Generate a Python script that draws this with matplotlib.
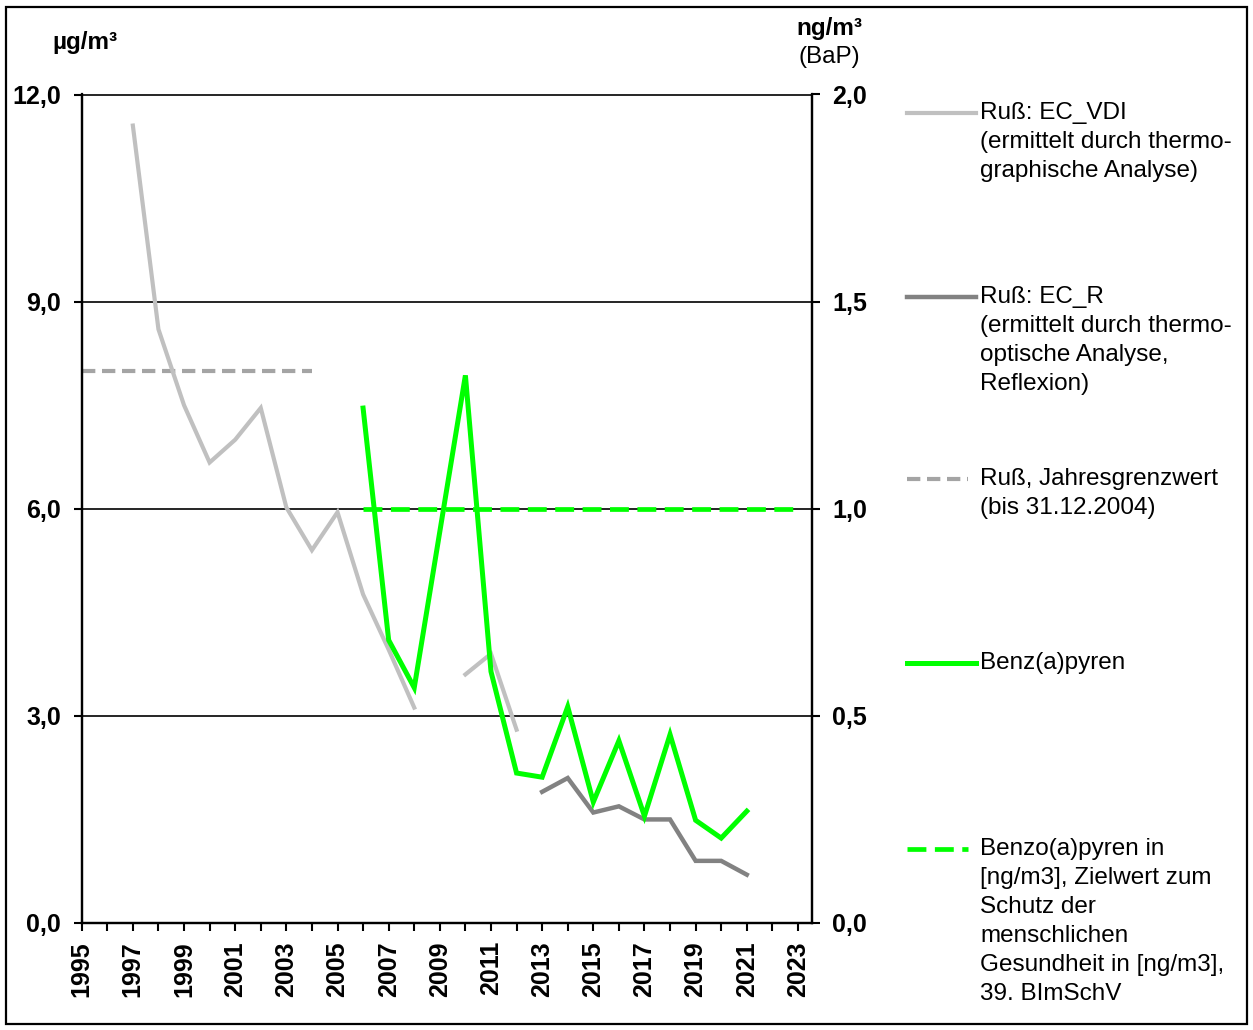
import numpy as np
import matplotlib
matplotlib.use('Agg')
import matplotlib.pyplot as plt
from matplotlib.lines import Line2D
from matplotlib.patches import Rectangle
from matplotlib.ticker import FuncFormatter, MultipleLocator, FixedLocator

plt.rcParams['font.family'] = ['Liberation Sans', 'DejaVu Sans']

# ---------------- data ----------------
ec_vdi_years = [1997, 1998, 1999, 2000, 2001, 2002, 2003, 2004, 2005, 2006, 2007, 2008, 2009, 2010, 2011, 2012]
ec_vdi = [11.55, 8.6, 7.5, 6.67, 7.0, 7.46, 6.02, 5.4, 5.95, 4.76, 3.96, 3.12, np.nan, 3.6, 3.9, 2.8]

ec_r_years = [2013, 2014, 2015, 2016, 2017, 2018, 2019, 2020, 2021]
ec_r = [1.9, 2.1, 1.6, 1.69, 1.5, 1.5, 0.9, 0.9, 0.7]

limit_years = [1995, 2004]
limit_russ = [8.0, 8.0]

bap_years = [2006, 2007, 2008, 2009, 2010, 2011, 2012, 2013, 2014, 2015, 2016, 2017, 2018, 2019, 2020, 2021]
bap = [1.243, 0.683, 0.568, 0.945, 1.322, 0.607, 0.362, 0.352, 0.522, 0.292, 0.44, 0.258, 0.455, 0.248, 0.205, 0.27]

target_years = [2006, 2023]
target_bap = [1.0, 1.0]

left_ticks = [0, 3, 6, 9, 12]
right_ticks = [0, 0.5, 1.0, 1.5, 2.0]
year_labels = list(range(1995, 2024, 2))

legend_labels = [
    ["Ruß: EC_VDI", "(ermittelt durch thermo-", "graphische Analyse)"],
    ["Ruß: EC_R", "(ermittelt durch thermo-", "optische Analyse,", "Reflexion)"],
    ["Ruß, Jahresgrenzwert", "(bis 31.12.2004)"],
    ["Benz(a)pyren"],
    ["Benzo(a)pyren in", "[ng/m3], Zielwert zum", "Schutz der", "menschlichen",
     "Gesundheit in [ng/m3],", "39. BImSchV"],
]

# ---------------- styles ----------------
C_VDI = '#c0c0c0'
C_R = '#828282'
C_LIM = '#a4a4a4'
C_GREEN = '#00ff00'

TICK_FS = 18
LEG_FS = 17.5

W, H = 1253, 1030
fig = plt.figure(figsize=(W / 100, H / 100), dpi=100)

def fx(px):
    return px / W

def fy(py):
    return 1 - py / H

left, right, top, bottom = 81.7, 811.5, 94.5, 923
ax = fig.add_axes([fx(left), fy(bottom), fx(right - left), (bottom - top) / H])
ax2 = ax.twinx()

ax.set_xlim(1995, 2023.53)
ax.set_ylim(0, 12)
ax2.set_ylim(0, 2)

# gridlines
for v in left_ticks[1:]:
    ax.axhline(v, color='black', lw=1.2, zorder=0.5)

ax.plot(limit_years, limit_russ, color=C_LIM, lw=3, dashes=(3.2, 1.6), zorder=2)
ax.plot(ec_vdi_years, ec_vdi, color=C_VDI, lw=3, zorder=2, solid_joinstyle='miter')
ax.plot(ec_r_years, ec_r, color=C_R, lw=3.2, zorder=2, solid_joinstyle='miter')

ax2.plot(target_years, target_bap, color=C_GREEN, lw=3.4, dashes=(4.0, 1.8), zorder=3)
ax2.plot(bap_years, bap, color=C_GREEN, lw=3.6, zorder=3, solid_joinstyle='miter')

fmt = FuncFormatter(lambda v, p: f"{v:.1f}".replace('.', ','))

for a in (ax, ax2):
    a.spines['top'].set_visible(False)
    for s in ('left', 'right', 'bottom'):
        a.spines[s].set_linewidth(1.6)
        a.spines[s].set_color('black')
    a.patch.set_visible(False)

ax.yaxis.set_major_locator(FixedLocator(left_ticks))
ax.yaxis.set_major_formatter(fmt)
ax2.yaxis.set_major_locator(FixedLocator(right_ticks))
ax2.yaxis.set_major_formatter(fmt)

ax.xaxis.set_major_locator(FixedLocator(year_labels))
ax.xaxis.set_minor_locator(MultipleLocator(1))
ax.set_xticklabels([str(y) for y in year_labels], rotation=90, fontweight='bold', fontsize=TICK_FS)

ax.tick_params(axis='y', direction='out', length=6, width=1.5, pad=9, labelsize=TICK_FS)
ax2.tick_params(axis='y', direction='out', length=6, width=1.5, pad=9, labelsize=TICK_FS)
ax.tick_params(axis='x', which='both', direction='out', length=6, width=1.5, pad=7)
for lab in ax.get_yticklabels() + ax2.get_yticklabels():
    lab.set_fontweight('bold')

# unit labels
fig.text(fx(85), fy(43), "µg/m³", fontsize=17.5, fontweight='bold', ha='center', va='center')
fig.text(fx(829), fy(28), "ng/m³", fontsize=17.5, fontweight='bold', ha='center', va='center')
fig.text(fx(829), fy(57), "(BaP)", fontsize=17.5, ha='center', va='center')

# legend (drawn manually)
handles = [
    dict(color=C_VDI, lw=3, dashes=None, x1=976),
    dict(color=C_R, lw=3.2, dashes=None, x1=976),
    dict(color=C_LIM, lw=3, dashes=(3.2, 1.6), x1=968),
    dict(color=C_GREEN, lw=3.6, dashes=None, x1=976),
    dict(color=C_GREEN, lw=3.4, dashes=(4.0, 1.8), x1=968),
]
first_line_y = [113, 297, 479, 663, 849]
line_step = 29
for h, y0, lines in zip(handles, first_line_y, legend_labels):
    ln = Line2D([fx(907), fx(h['x1'])], [fy(y0), fy(y0)], transform=fig.transFigure,
                color=h['color'], lw=h['lw'])
    if h['dashes'] is not None:
        ln.set_dashes(h['dashes'])
    fig.add_artist(ln)
    for k, t in enumerate(lines):
        fig.text(fx(980), fy(y0 + k * line_step), t, fontsize=LEG_FS, ha='left', va='center')

# outer frame
fig.add_artist(Rectangle((fx(6), fy(1024)), fx(1241), (1024 - 7) / H, transform=fig.transFigure,
                         fill=False, edgecolor='black', lw=1.6))

fig.savefig('out.png', dpi=100)
